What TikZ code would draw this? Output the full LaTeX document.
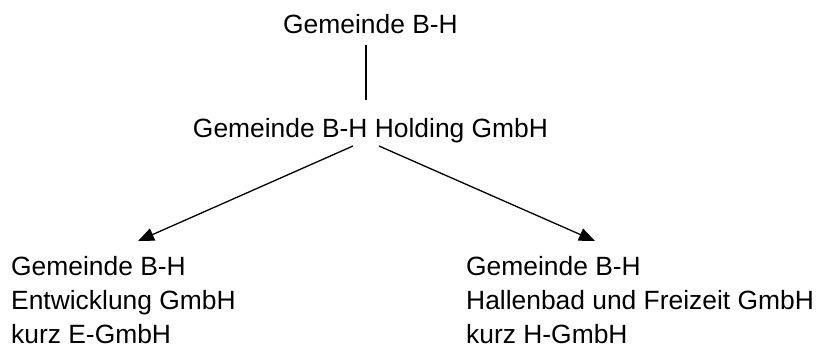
\documentclass[tikz,border=0pt]{standalone}
\usepackage{fontspec}
\setmainfont{Liberation Sans}
\usetikzlibrary{arrows.meta,calc}
\begin{document}
\begin{tikzpicture}[x=1pt,y=-1pt,
  lbl/.style={inner sep=0pt,font=\fontsize{26.4}{34}\selectfont},
  conn/.style={line width=1.3pt},
  arr/.style={conn,-{Triangle[length=16pt,width=13pt]}}]
\useasboundingbox (0,0) rectangle (819,346);
\node[lbl,anchor=base] (top) at (370.5,33) {Gemeinde B-H};
\node[lbl,anchor=base] (hold) at (370.5,137) {Gemeinde B-H Holding GmbH};
\node[lbl,anchor=base west] (l1) at (11,275) {Gemeinde B-H};
\node[lbl,anchor=base west] (l2) at (11,309) {Entwicklung GmbH};
\node[lbl,anchor=base west] (l3) at (11,343) {kurz E-GmbH};
\node[lbl,anchor=base west] (r1) at (466,275) {Gemeinde B-H};
\node[lbl,anchor=base west] (r2) at (466,309) {Hallenbad und Freizeit GmbH};
\node[lbl,anchor=base west] (r3) at (466,343) {kurz H-GmbH};
\coordinate (vt) at (366,45);
\coordinate (vb) at (366,100);
\coordinate (ls) at (353,146);
\coordinate (rs) at (379,146);
\coordinate (lt) at (138,241);
\coordinate (rt) at (595,241);
\draw[conn] (vt) -- (vb);
\draw[arr] (ls) -- (lt);
\draw[arr] (rs) -- (rt);
\end{tikzpicture}
\end{document}
